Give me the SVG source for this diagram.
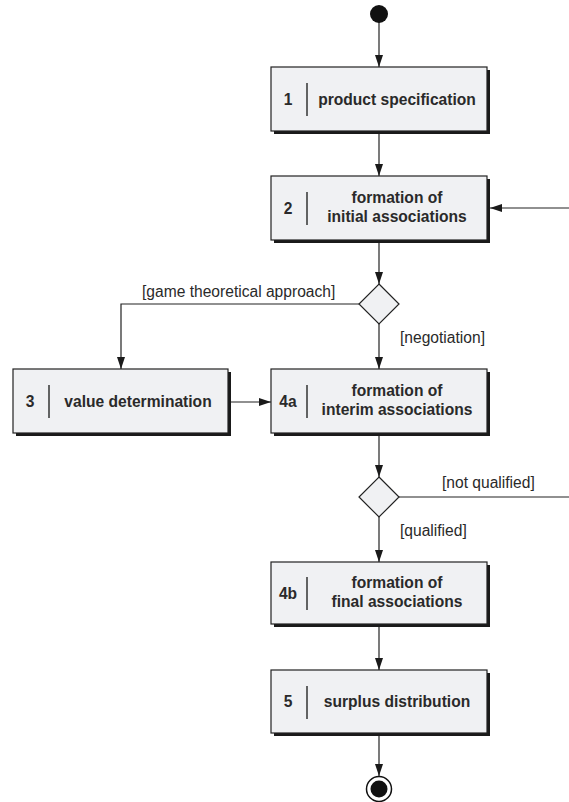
<svg xmlns="http://www.w3.org/2000/svg" width="569" height="802" viewBox="0 0 569 802">
<defs>
<style>
.box{fill:#f0f1f3;stroke:#222;stroke-width:1.2}
.shadow{fill:#1a1a1a}
.div{stroke:#333;stroke-width:1.5}
.bt{font-family:"Liberation Sans",Arial,sans-serif;font-weight:bold;font-size:15.6px;fill:#2a2a2a;text-anchor:middle}
.lb{font-family:"Liberation Sans",Arial,sans-serif;font-size:15.6px;fill:#2a2a2a}
.ln{fill:none;stroke:#222;stroke-width:1.2}
.dm{fill:#f0f1f3;stroke:#222;stroke-width:1.2}
</style>
<marker id="ah" viewBox="0 0 12 10" refX="12" refY="5" markerWidth="12" markerHeight="10" markerUnits="userSpaceOnUse" orient="auto">
<path d="M0,1 L12,5 L0,9 Z" fill="#1a1a1a"/>
</marker>
</defs>
<rect width="569" height="802" fill="#fff"/>

<g id="connectors">
<line class="ln" x1="379" y1="22" x2="379" y2="67" marker-end="url(#ah)"/>
<line class="ln" x1="379" y1="131" x2="379" y2="176" marker-end="url(#ah)"/>
<line class="ln" x1="569" y1="208" x2="490" y2="208" marker-end="url(#ah)"/>
<line class="ln" x1="379" y1="240" x2="379" y2="284" marker-end="url(#ah)"/>
<polyline class="ln" points="359,304 121,304 121,369" marker-end="url(#ah)"/>
<line class="ln" x1="379" y1="324" x2="379" y2="369" marker-end="url(#ah)"/>
<line class="ln" x1="231" y1="402" x2="271" y2="402" marker-end="url(#ah)"/>
<line class="ln" x1="379" y1="433" x2="379" y2="477" marker-end="url(#ah)"/>
<line class="ln" x1="399" y1="497" x2="569" y2="497"/>
<line class="ln" x1="379" y1="517" x2="379" y2="562" marker-end="url(#ah)"/>
<line class="ln" x1="379" y1="624" x2="379" y2="670" marker-end="url(#ah)"/>
<line class="ln" x1="379" y1="733" x2="379" y2="776" marker-end="url(#ah)"/>
<text class="lb" x="142" y="297">[game theoretical approach]</text>
<text class="lb" x="400" y="343">[negotiation]</text>
<text class="lb" x="442" y="488">[not qualified]</text>
<text class="lb" x="400" y="536">[qualified]</text>
</g>

<g id="start"><circle cx="379" cy="14" r="9" fill="#111"/></g>

<g id="n1">
<rect class="shadow" x="274" y="70" width="216" height="64"/>
<rect class="box" x="271" y="67" width="216" height="64"/>
<line class="div" x1="307" y1="83" x2="307" y2="116"/>
<text class="bt" x="288" y="105">1</text>
<text class="bt" x="397" y="105">product specification</text>
</g>

<g id="n2">
<rect class="shadow" x="274" y="179" width="216" height="64"/>
<rect class="box" x="271" y="176" width="216" height="64"/>
<line class="div" x1="307" y1="192" x2="307" y2="225"/>
<text class="bt" x="288" y="214">2</text>
<text class="bt" x="397" y="203">formation of</text>
<text class="bt" x="397" y="222">initial associations</text>
</g>

<g id="d1"><polygon class="dm" points="379,284 399,304 379,324 359,304"/></g>

<g id="n3">
<rect class="shadow" x="16" y="372" width="215" height="64"/>
<rect class="box" x="13" y="369" width="215" height="64"/>
<line class="div" x1="49" y1="385" x2="49" y2="418"/>
<text class="bt" x="30" y="407">3</text>
<text class="bt" x="138" y="407">value determination</text>
</g>

<g id="n4a">
<rect class="shadow" x="274" y="372" width="216" height="64"/>
<rect class="box" x="271" y="369" width="216" height="64"/>
<line class="div" x1="307" y1="385" x2="307" y2="418"/>
<text class="bt" x="288" y="407">4a</text>
<text class="bt" x="397" y="396">formation of</text>
<text class="bt" x="397" y="415">interim associations</text>
</g>

<g id="d2"><polygon class="dm" points="379,477 399,497 379,517 359,497"/></g>

<g id="n4b">
<rect class="shadow" x="274" y="565" width="216" height="62"/>
<rect class="box" x="271" y="562" width="216" height="62"/>
<line class="div" x1="307" y1="577" x2="307" y2="610"/>
<text class="bt" x="288" y="599">4b</text>
<text class="bt" x="397" y="588">formation of</text>
<text class="bt" x="397" y="607">final associations</text>
</g>

<g id="n5">
<rect class="shadow" x="274" y="673" width="216" height="63"/>
<rect class="box" x="271" y="670" width="216" height="63"/>
<line class="div" x1="307" y1="686" x2="307" y2="719"/>
<text class="bt" x="288" y="707">5</text>
<text class="bt" x="397" y="707">surplus distribution</text>
</g>

<g id="end">
<circle cx="379" cy="789" r="12.5" fill="#fff" stroke="#111" stroke-width="1.5"/>
<circle cx="379" cy="789" r="8.5" fill="#111"/>
</g>
</svg>
